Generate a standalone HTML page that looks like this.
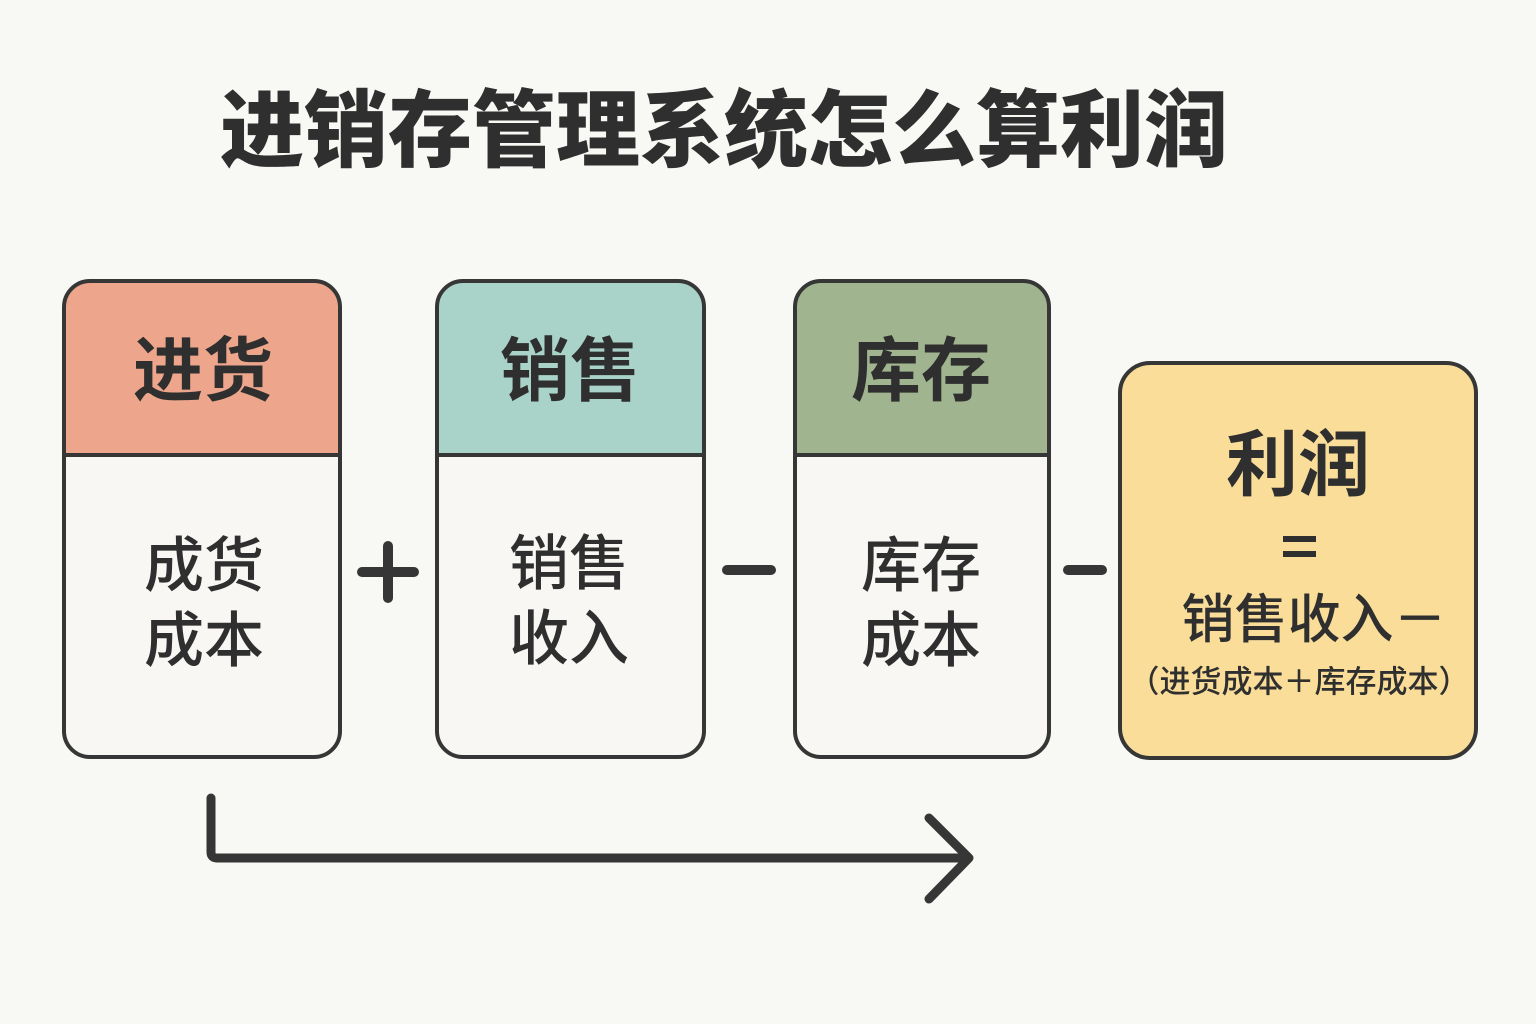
<!DOCTYPE html>
<html>
<head>
<meta charset="utf-8">
<style>
  html,body{margin:0;padding:0;background:#f8f8f4;}
  body{width:1536px;height:1024px;overflow:hidden;}
  svg{display:block;}
  text{font-family:"Liberation Sans","Noto Sans CJK SC","WenQuanYi Zen Hei",sans-serif;fill:#2f2f2f;}
</style>
</head>
<body>
<svg width="1536" height="1024" viewBox="0 0 1536 1024" xmlns="http://www.w3.org/2000/svg">
  <rect x="0" y="0" width="1536" height="1024" fill="#f8f8f4"/>

  <!-- Title -->
  <text x="724" y="131" font-size="84" font-weight="900" text-anchor="middle" dominant-baseline="central">进销存管理系统怎么算利润</text>

  <defs>
    <clipPath id="c1"><rect x="64" y="281" width="276" height="476" rx="26"/></clipPath>
    <clipPath id="c2"><rect x="437" y="281" width="267" height="476" rx="26"/></clipPath>
    <clipPath id="c3"><rect x="795" y="281" width="254" height="476" rx="26"/></clipPath>
  </defs>

  <!-- Box 1 -->
  <g clip-path="url(#c1)">
    <rect x="60" y="277" width="284" height="178" fill="#eda68c"/>
    <rect x="60" y="455" width="284" height="306" fill="#f8f7f3"/>
  </g>
  <rect x="64" y="281" width="276" height="476" rx="26" fill="none" stroke="#363636" stroke-width="4"/>
  <line x1="64" y1="455" x2="340" y2="455" stroke="#363636" stroke-width="4"/>
  <text x="203" y="371" font-size="70" font-weight="700" text-anchor="middle" dominant-baseline="central">进货</text>
  <text x="204" y="566" font-size="60" font-weight="500" text-anchor="middle" dominant-baseline="central">成货</text>
  <text x="204" y="641" font-size="60" font-weight="500" text-anchor="middle" dominant-baseline="central">成本</text>

  <!-- Plus -->
  <line x1="362" y1="572" x2="414" y2="572" stroke="#363636" stroke-width="10" stroke-linecap="round"/>
  <line x1="388" y1="546" x2="388" y2="598" stroke="#363636" stroke-width="10" stroke-linecap="round"/>

  <!-- Box 2 -->
  <g clip-path="url(#c2)">
    <rect x="433" y="277" width="275" height="178" fill="#a9d3c9"/>
    <rect x="433" y="455" width="275" height="306" fill="#f8f7f3"/>
  </g>
  <rect x="437" y="281" width="267" height="476" rx="26" fill="none" stroke="#363636" stroke-width="4"/>
  <line x1="437" y1="455" x2="704" y2="455" stroke="#363636" stroke-width="4"/>
  <text x="570" y="371" font-size="70" font-weight="700" text-anchor="middle" dominant-baseline="central">销售</text>
  <text x="569" y="564" font-size="60" font-weight="500" text-anchor="middle" dominant-baseline="central">销售</text>
  <text x="569" y="639" font-size="60" font-weight="500" text-anchor="middle" dominant-baseline="central">收入</text>

  <!-- Minus 1 -->
  <line x1="727" y1="570" x2="771" y2="570" stroke="#363636" stroke-width="10" stroke-linecap="round"/>

  <!-- Box 3 -->
  <g clip-path="url(#c3)">
    <rect x="791" y="277" width="262" height="178" fill="#a0b58f"/>
    <rect x="791" y="455" width="262" height="306" fill="#f8f7f3"/>
  </g>
  <rect x="795" y="281" width="254" height="476" rx="26" fill="none" stroke="#363636" stroke-width="4"/>
  <line x1="795" y1="455" x2="1049" y2="455" stroke="#363636" stroke-width="4"/>
  <text x="921" y="371" font-size="70" font-weight="700" text-anchor="middle" dominant-baseline="central">库存</text>
  <text x="921" y="566" font-size="60" font-weight="500" text-anchor="middle" dominant-baseline="central">库存</text>
  <text x="921" y="641" font-size="60" font-weight="500" text-anchor="middle" dominant-baseline="central">成本</text>

  <!-- Minus 2 -->
  <line x1="1068" y1="570" x2="1102" y2="570" stroke="#363636" stroke-width="10" stroke-linecap="round"/>

  <!-- Box 4 -->
  <rect x="1120" y="363" width="356" height="395" rx="30" fill="#f9dd99" stroke="#363636" stroke-width="4"/>
  <text x="1298" y="466" font-size="72" font-weight="700" text-anchor="middle" dominant-baseline="central">利润</text>
  <rect x="1283" y="536" width="33" height="6" fill="#2f2f2f"/>
  <rect x="1283" y="551" width="33" height="6" fill="#2f2f2f"/>
  <text x="1314" y="620" font-size="53" font-weight="500" text-anchor="middle" dominant-baseline="central">销售收入－</text>
  <text x="1299" y="682" font-size="31" font-weight="500" text-anchor="middle" dominant-baseline="central">（进货成本＋库存成本）</text>

  <!-- Bottom arrow -->
  <path d="M211 798 L211 852 Q211 858 217 858 L968 858" fill="none" stroke="#363636" stroke-width="9" stroke-linecap="round" stroke-linejoin="round"/>
  <path d="M929 818 L969 858 L929 899" fill="none" stroke="#363636" stroke-width="9" stroke-linecap="round" stroke-linejoin="round"/>
</svg>
</body>
</html>
